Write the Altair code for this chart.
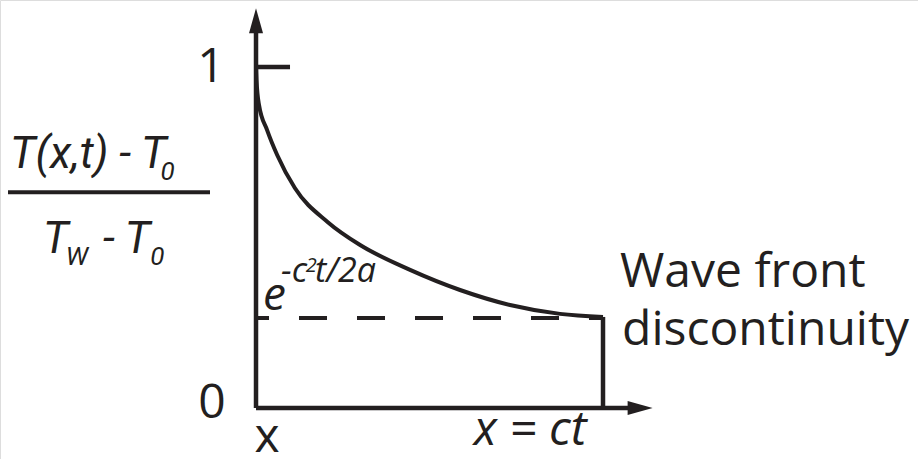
import altair as alt
import pandas as pd

# Normalised coordinates: x in units of ct, y = (T - T0) / (Tw - T0)
curve_x = [0.0, 0.0015, 0.0086, 0.032, 0.061, 0.112, 0.207, 0.300, 0.444, 0.588, 0.732, 0.876, 1.0]
curve_y = [1.0, 0.962, 0.889, 0.815, 0.742, 0.645, 0.545, 0.478, 0.405, 0.346, 0.302, 0.276, 0.267]
front_level = 0.264  # e^{-c^2 t / 2a}

# Axis extents (data units)
x_axis_end = 1.107
y_axis_end = 1.136
tick_len = 0.098

X_DOMAIN = [-0.7378, 1.9078]
Y_DOMAIN = [-0.1496, 1.1965]

FONT = "Open Sans"
MATH_FONT = "Roboto"
INK = "#231f20"

xs = alt.Scale(domain=X_DOMAIN, nice=False, zero=False)
ys = alt.Scale(domain=Y_DOMAIN, nice=False, zero=False)


def X(field="x"):
    return alt.X(f"{field}:Q", scale=xs, axis=None)


def Y(field="y"):
    return alt.Y(f"{field}:Q", scale=ys, axis=None)


# Axes, tick at 1 and the wave-front drop
segments = pd.DataFrame({
    "x":  [0.0, 0.0, 0.0, 1.0],
    "y":  [0.0, 0.0, 1.0, 0.0],
    "x2": [x_axis_end, 0.0, tick_len, 1.0],
    "y2": [0.0, y_axis_end, 1.0, curve_y[-1]],
})
rules = alt.Chart(segments).mark_rule(color=INK, strokeWidth=4.5, strokeCap="butt").encode(
    x=X(), y=Y(), x2="x2:Q", y2="y2:Q"
)

dashed = alt.Chart(pd.DataFrame({"x": [0.0], "x2": [1.0], "y": [front_level]})).mark_rule(
    color=INK, strokeWidth=4, strokeDash=[28, 30], strokeDashOffset=15, strokeCap="butt"
).encode(x=X(), x2="x2:Q", y=Y())

curve = alt.Chart(pd.DataFrame({"x": curve_x, "y": curve_y})).mark_line(
    color=INK, strokeWidth=4, interpolate="monotone"
).encode(x=X(), y=Y())

# Arrow heads at the ends of the axes
up_head = alt.Chart(pd.DataFrame({"x": [0.0], "y": [y_axis_end]})).mark_point(
    shape="M0,-1L0.56,1L-0.56,1Z", size=625, filled=True, opacity=1, color=INK, strokeWidth=0
).encode(x=X(), y=Y())
right_head = alt.Chart(pd.DataFrame({"x": [x_axis_end], "y": [0.0]})).mark_point(
    shape="M1,0L-1,-0.56L-1,0.56Z", size=625, filled=True, opacity=1, color=INK, strokeWidth=0
).encode(x=X(), y=Y())

# Fraction bar of the y label
frac_bar = alt.Chart(pd.DataFrame({"x": [-0.7147], "x2": [-0.1326], "y": [0.633]})).mark_rule(
    color=INK, strokeWidth=4
).encode(x=X(), x2="x2:Q", y=Y())


def text_layer(texts, xs_, ys_, size, style="normal", align="left", font=FONT):
    df = pd.DataFrame({"t": texts, "x": xs_, "y": ys_})
    return alt.Chart(df).mark_text(
        font=font, fontSize=size, fontStyle=style, align=align, baseline="alphabetic", color=INK
    ).encode(x=X(), y=Y(), text="t:N")


# Plain labels
plain_labels = text_layer(["1", "0", "x"], [-0.130, -0.127, 0.032], [0.956, -0.029, -0.130], 48, align="center")
front_labels = text_layer(["Wave front", "discontinuity"], [1.049, 1.055], [0.355, 0.185], 48)
ct_label = text_layer(["x = ct"], [0.790], [-0.110], 48, style="italic", align="center")

# e^{-c^2 t / 2a}
exp_base = text_layer(["e"], [0.020], [0.287], 46, style="italic")
exp_sup = text_layer(["-c", "t/2a"], [0.072, 0.170], [0.370, 0.370], 34, style="italic")
exp_sq = text_layer(["2"], [0.143], [0.399], 20, style="italic")

# (T(x,t) - T0) / (Tw - T0)
num_main = text_layer(["T(x,t) - T"], [-0.709], [0.704], 44, style="italic", font=MATH_FONT)
den_main = text_layer(["T", "- T"], [-0.614, -0.441], [0.455, 0.455], 44, style="italic", font=MATH_FONT)
subs = text_layer(["0", "W", "0"], [-0.275, -0.548, -0.305], [0.669, 0.419, 0.419], 26,
                  style="italic", font=MATH_FONT)

chart = alt.layer(
    dashed, curve, rules, up_head, right_head, frac_bar,
    plain_labels, front_labels, ct_label, exp_base, exp_sup, exp_sq,
    num_main, den_main, subs,
).properties(
    width=918, height=459, padding=0,
    autosize=alt.AutoSizeParams(type="none"),
).configure_view(stroke=None).configure(background="white")

chart.save("out.html", embed_options={"renderer": "svg", "actions": False})
